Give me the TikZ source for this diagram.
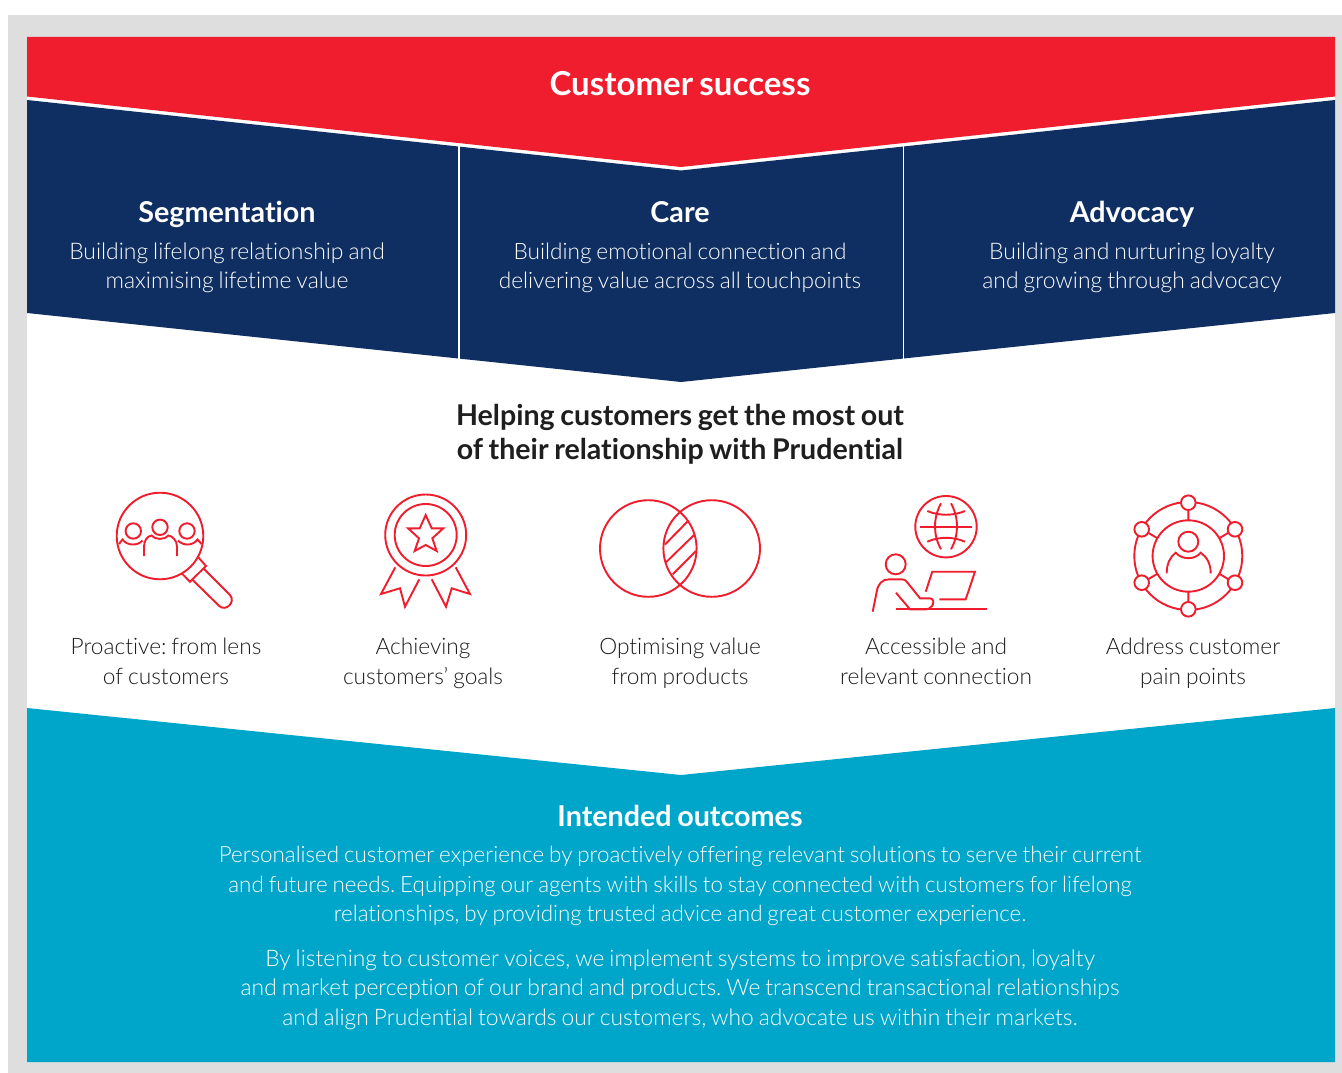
\documentclass[tikz,border=0pt]{standalone}
\usepackage{fontspec}
\setmainfont{Lato}[UprightFont=* Light,BoldFont=* Bold,WordSpace=0.8,Ligatures={NoCommon,NoRare,NoContextual}]
\frenchspacing
\definecolor{pred}{HTML}{EF1D2D}
\definecolor{pnavy}{HTML}{0F2F63}
\definecolor{pcyan}{HTML}{00A6CA}
\definecolor{pgrey}{HTML}{DEDEDE}
\definecolor{pink}{HTML}{1E1E1E}
\newcommand\linefill{\vphantom{Ág}}
\tikzset{
  band/.style={fill=#1,draw=none},
  divider/.style={draw=white,line width=1.2pt},
  icon/.style={draw=pred,line width=1.9pt,line cap=butt,line join=miter},
  strutted/.style={execute at begin node=\linefill,execute at end node=\linefill},
  headw/.style={text=white,font=\fontsize{28.7}{32}\selectfont\bfseries,inner sep=0pt,anchor=center,strutted},
  bodyw/.style={text=white,font=\fontsize{22.9}{29.5}\selectfont,align=center,inner sep=0pt,anchor=center,strutted},
  bodyo/.style={bodyw,font=\fontsize{22.4}{29.5}\selectfont},
  bodyk/.style={text=pink,font=\fontsize{22.7}{30}\selectfont,align=center,inner sep=0pt,anchor=center,strutted},
}
\begin{document}
\begin{tikzpicture}[x=1pt,y=-1pt]
\useasboundingbox (0,0) rectangle (1342,1073);
\fill[pgrey] (8,15) rectangle (1342,1073);
\fill[white] (27,37) rectangle (1335,1062);
\path[band=pnavy] (27,100) -- (681,170.5) -- (1335,100) -- (1335,313) -- (681,382) -- (27,313) -- cycle;
\path[band=pred] (27,37) -- (1335,37) -- (1335,96.5) -- (681,167) -- (27,96.5) -- cycle;
\path[band=pcyan] (27,708) -- (681,775) -- (1335,708) -- (1335,1062) -- (27,1062) -- cycle;
\draw[divider] (459,145.5) -- (459,358.5);
\draw[divider] (903.5,145.5) -- (903.5,358.5);

\node[text=white,font=\fontsize{33}{36}\selectfont\bfseries,inner sep=0pt,strutted] (title) at (680,83.5) {Customer success};
\node[headw] (h1) at (227,212) {Segmentation};
\node[headw] (h2) at (680,212) {Care};
\node[headw] (h3) at (1132,212) {Advocacy};
\node[bodyw] (b1) at (227,268) {Building lifelong relationship and\\maximising lifetime value};
\node[bodyw,font=\fontsize{22.6}{29.5}\selectfont] (b2) at (680,268) {Building emotional connection and\\delivering value across all touchpoints};
\node[bodyw] (b3) at (1132,268) {Building and nurturing loyalty\\and growing through advocacy};
\node[text=pink,font=\fontsize{28.6}{34.5}\selectfont\bfseries,align=center,inner sep=0pt,strutted] (mid) at (680,434.5) {Helping customers get the most out\\of their relationship with Prudential};
\node[bodyk] (c1) at (166,663.5) {Proactive: from lens\\of customers};
\node[bodyk] (c2) at (423,663.5) {Achieving\\customers’ goals};
\node[bodyk] (c3) at (680,663.5) {Optimising value\\from products};
\node[bodyk] (c4) at (936,663.5) {Accessible and\\relevant connection};
\node[bodyk] (c5) at (1193,663.5) {Address customer\\pain points};
\node[headw] (h4) at (680,816) {Intended outcomes};
\node[bodyo] (o1) at (680,886) {Personalised customer experience by proactively offering relevant solutions to serve their current\\and future needs. Equipping our agents with skills to stay connected with customers for lifelong\\relationships, by providing trusted advice and great customer experience.};
\node[bodyo,font=\fontsize{22.8}{29.5}\selectfont] (o2) at (680,989.5) {By listening to customer voices, we implement systems to improve satisfaction, loyalty\\and market perception of our brand and products. We transcend transactional relationships\\and align Prudential towards our customers, who advocate us within their markets.};

% magnifier
\draw[icon] (160,536) circle[radius=43.3pt];
\draw[icon] (198.3,557.3) -- (206,566) -- (190,581.7) -- (181.7,573.3);
\draw[icon] (203.3,568.3) -- (230,595) .. controls (236,602) and (226,612) .. (219.3,606) -- (192.7,580);
\draw[icon] (160,527.3) circle[radius=7.7pt] (133.3,531) circle[radius=7.7pt] (187,531) circle[radius=7.7pt];
\draw[icon] (144,556) -- (144,546.5) .. controls (144,540) and (148,536) .. (151.5,535.5) .. controls (155,540) and (165,540) .. (168.5,535.5) .. controls (172,536) and (177,540) .. (177,546.5) -- (177,556);
\draw[icon] (119,544) -- (122.5,539.5) .. controls (127,546) and (138,546) .. (142.5,540.5);
\draw[icon] (178,540.5) .. controls (183,546) and (193,546) .. (197.5,539.5) -- (201.5,544);
% rosette
\draw[icon] (425.7,535) circle[radius=40.5pt] (425.7,535) circle[radius=31pt];
\draw[icon] (425.7,515) -- (431.7,528.3) -- (443.3,528.3) -- (432.3,538.3) -- (436.7,551) -- (425.7,545) -- (414.7,551) -- (419,538.3) -- (408,528.3) -- (419.7,528.3) -- cycle;
\draw[icon] (395.3,567.3) -- (381,594) -- (400,588.3) -- (405,606.7) -- (419.3,579.3);
\draw[icon] (455.7,567.3) -- (470,594) -- (451.7,588.3) -- (446,606.7) -- (431.7,579.3);
% venn
\draw[icon] (648.3,548.5) circle[radius=48.3pt] (711.7,548.5) circle[radius=48.3pt];
\draw[icon] (665,544.5) -- (687.3,521.7) (666,562.3) -- (694,535) (672.7,574.3) -- (696,551);
% globe and person
\draw[icon] (946,526.7) circle[radius=30.7pt];
\draw[icon] (920,526.7) -- (972,526.7);
\draw[icon] (941,503.3) .. controls (933,518) and (933,535) .. (941,549.3);
\draw[icon] (951,503.3) .. controls (959,518) and (959,535) .. (951,549.3);
\draw[icon] (927.3,511) .. controls (939,516) and (953,516) .. (965,511);
\draw[icon] (927.3,541.7) .. controls (939,536.5) and (953,536.5) .. (965,541.7);
\draw[icon] (895.7,564.3) circle[radius=10pt];
\draw[icon] (872.7,611.7) -- (876.7,591.7) .. controls (878,584) and (882,579.3) .. (889,579.3) -- (901.7,579.3) .. controls (904,579.3) and (905.5,580) .. (906.7,581.7) -- (920,598.3) -- (930,598.3) .. controls (934,598.3) and (934,604) .. (932,606) .. controls (930,608.5) and (928,609.3) .. (926,609.3) -- (910,609.3) -- (896,592.7);
\draw[icon] (896,609) -- (987.3,609);
\draw[icon] (925.7,591.7) -- (932.3,571.7) -- (975,571.7) -- (965.7,599.3) -- (939.3,599.3);
% network
\draw[icon] (1188.3,556) circle[radius=54pt] (1188.3,556) circle[radius=35.7pt];
\draw[icon] (1188.3,520.3) -- (1188.3,510) (1188.3,591.7) -- (1188.3,602)
 (1157.4,538.2) -- (1148,532.7) (1219.2,538.2) -- (1228.6,532.7)
 (1157.4,573.8) -- (1148,579.3) (1219.2,573.8) -- (1228.6,579.3);
\foreach \px/\py in {1188.3/502.7,1235/529.3,1235/582.7,1188.3/609.3,1141.7/582.7,1141.7/529.3}
  \draw[icon,fill=white] (\px,\py) circle[radius=7.3pt];
\draw[icon] (1188.3,541.7) circle[radius=10pt];
\draw[icon] (1166.7,573.3) .. controls (1166.7,564) and (1170,557) .. (1175.7,552.7) .. controls (1182,560) and (1195,560) .. (1200.7,552.7) .. controls (1207,557) and (1210.7,564) .. (1210.7,573.3);
\end{tikzpicture}
\end{document}
